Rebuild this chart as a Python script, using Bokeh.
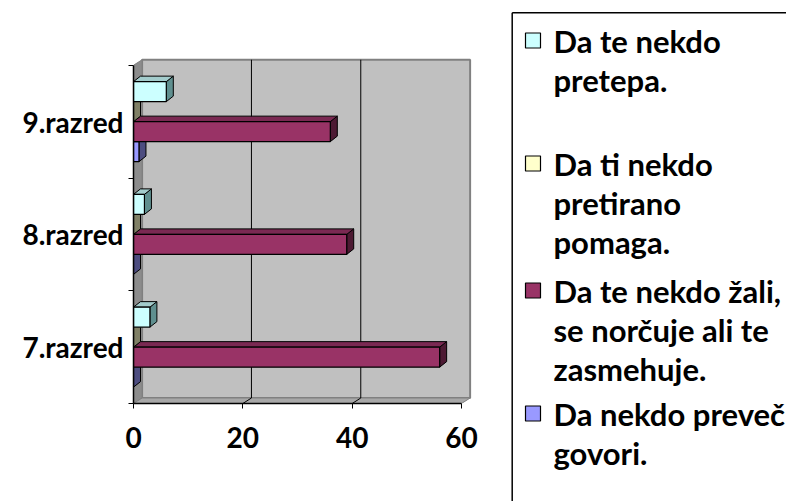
from bokeh.plotting import figure
from bokeh.models import Range1d, FixedTicker
from bokeh.layouts import row
from bokeh.embed import file_html
from bokeh.resources import INLINE
from bokeh.core.properties import value

# ---------------- data ----------------
categories = ["7.razred", "8.razred", "9.razred"]
legend_lines = [
    ["Da te nekdo", "pretepa."],
    ["Da ti nekdo", "pretirano", "pomaga."],
    ["Da te nekdo žali,", "se norčuje ali te", "zasmehuje."],
    ["Da nekdo preveč", "govori."],
]
pretepa = [3, 2, 6]
pomaga = [0, 0, 0]
zali = [56, 39, 36]
govori = [0, 0, 1]
x_ticks = [0, 20, 40, 60]

series = [pretepa, pomaga, zali, govori]
front_colors = ["#CCFFFF", "#FFFFCC", "#993366", "#9999FF"]
top_colors = ["#A3CCCC", "#CCCCA3", "#7A2952", "#7A7ACC"]
side_colors = ["#5F8F8F", "#808066", "#4D1A33", "#4D4D80"]

FONT = "Lato"
FSIZE = "28px"
LSIZE = "31px"

# ---------------- geometry ----------------
TOTAL_W, H = 786, 501
W1 = 508
BL, BB = 133, 98
PX_X = 5.467      # pixels per value unit
PX_Y = 112.75     # pixels per category
XMAX = x_ticks[-1]
NCAT = len(categories)

WDX, WDY = 8.6 / PX_X, 5.5 / PX_Y     # wall depth
BDX, BDY = 7.0 / PX_X, 5.5 / PX_Y     # bar depth
BH = 20.0 / PX_Y                      # bar thickness

p = figure(width=W1, height=H,
           x_range=Range1d(0, (W1 - BL) / PX_X),
           y_range=Range1d(0, (H - BB) / PX_Y),
           output_backend="svg", toolbar_location=None,
           min_border_left=BL, min_border_right=0,
           min_border_top=0, min_border_bottom=BB)
p.frame_align = False
p.outline_line_color = None
p.grid.visible = False
p.background_fill_color = "white"
p.border_fill_color = "white"

# back wall, side wall, floor
p.quad(left=[WDX], right=[XMAX + WDX], bottom=[WDY], top=[NCAT + WDY],
       fill_color="#C0C0C0", line_color="#808080", line_width=2)
p.patch([0, WDX, WDX, 0], [0, WDY, NCAT + WDY, NCAT],
        fill_color="#8C8C8C", line_color="#808080", line_width=1)
p.patch([0, XMAX, XMAX + WDX, WDX], [0, 0, WDY, WDY],
        fill_color="#A8A8A8", line_color="#808080", line_width=1)

# gridlines on wall and floor
inner = [t for t in x_ticks if 0 < t < XMAX]
p.segment(x0=[t + WDX for t in inner], y0=[WDY] * len(inner),
          x1=[t + WDX for t in inner], y1=[NCAT + WDY] * len(inner),
          line_color="black", line_width=1)
p.segment(x0=inner, y0=[0] * len(inner),
          x1=[t + WDX for t in inner], y1=[WDY] * len(inner),
          line_color="black", line_width=1)

# bars: draw from the bottom series upwards so upper bars cover lower ones
for j in reversed(range(len(series))):
    vals = series[j]
    tops = [i + 0.5 + 2 * BH - j * BH for i in range(NCAT)]
    bots = [t - BH for t in tops]
    side_xs = [[v, v + BDX, v + BDX, v] for v in vals]
    side_ys = [[b, b + BDY, t + BDY, t] for b, t in zip(bots, tops)]
    top_xs = [[0, v, v + BDX, BDX] for v in vals]
    top_ys = [[t, t, t + BDY, t + BDY] for t in tops]
    p.patches(side_xs, side_ys, fill_color=side_colors[j], line_color="black", line_width=1)
    p.patches(top_xs, top_ys, fill_color=top_colors[j], line_color="black", line_width=1)
    p.quad(left=[0] * NCAT, right=vals, bottom=bots, top=tops,
           fill_color=front_colors[j], line_color="black", line_width=1.2)

# axes
xa = p.xaxis[0]
xa.ticker = FixedTicker(ticks=x_ticks, minor_ticks=[])
xa.bounds = (0, XMAX)
xa.axis_line_color = "black"
xa.axis_line_width = 1.5
xa.major_tick_out = 5
xa.major_tick_in = 0
xa.major_tick_line_color = "black"
xa.major_label_text_font = FONT
xa.major_label_text_font_style = "bold"
xa.major_label_text_font_size = FSIZE
xa.major_label_text_color = "black"
xa.major_label_standoff = 18

ya = p.yaxis[0]
ya.ticker = FixedTicker(ticks=[i + 0.5 for i in range(NCAT)],
                        minor_ticks=list(range(NCAT + 1)))
ya.major_label_overrides = {i + 0.5: c for i, c in enumerate(categories)}
ya.bounds = (0, NCAT)
ya.axis_line_color = "black"
ya.axis_line_width = 1.5
ya.major_tick_out = 0
ya.major_tick_in = 0
ya.minor_tick_out = 5
ya.minor_tick_in = 0
ya.minor_tick_line_color = "black"
ya.major_label_text_font = FONT
ya.major_label_text_font_style = "bold"
ya.major_label_text_font_size = FSIZE
ya.major_label_text_color = "black"
ya.major_label_standoff = 5

# ---------------- legend panel ----------------
W2 = TOTAL_W - W1
lf = figure(width=W2, height=H, x_range=Range1d(0, W2), y_range=Range1d(H, 0),
            output_backend="svg", toolbar_location=None,
            min_border_left=0, min_border_right=0, min_border_top=0, min_border_bottom=0)
lf.frame_align = False
lf.axis.visible = False
lf.grid.visible = False
lf.outline_line_color = None
lf.background_fill_color = "white"
lf.border_fill_color = "white"

box_l, box_t = 3.7, 12.3
lf.multi_line([[box_l, box_l], [box_l, W2 + 10]], [[H + 10, box_t], [box_t, box_t]],
              line_color="black", line_width=1.5)

entry_first = [40, 163, 290, 413]
LINE = 39.0
tx, ty, tt = [], [], []
for k, lines in enumerate(legend_lines):
    for m, s in enumerate(lines):
        tx.append(45)
        ty.append(entry_first[k] + m * LINE)
        tt.append(s)
lf.quad(left=[17] * 4, right=[32] * 4,
        top=[c - 7.5 for c in entry_first], bottom=[c + 7.5 for c in entry_first],
        fill_color=front_colors, line_color="black", line_width=1.2)
lf.text(x=tx, y=ty, text=tt, text_font=value(FONT), text_font_style="bold",
        text_font_size=LSIZE, text_baseline="middle", text_align="left", text_color="black")

layout = row(p, lf)
open("out.html", "w").write(file_html(layout, INLINE))
